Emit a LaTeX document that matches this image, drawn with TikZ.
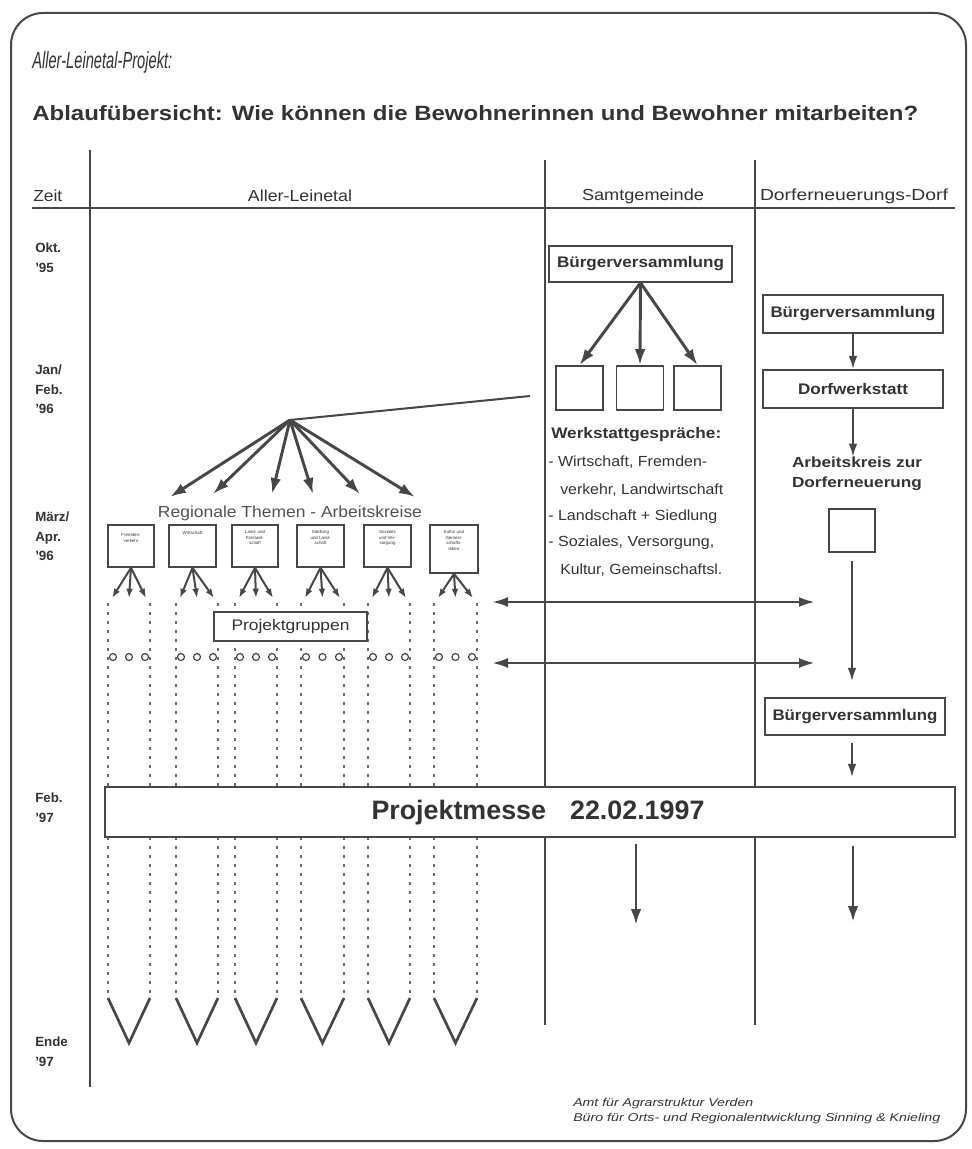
\documentclass[tikz,border=0pt]{standalone}
\usepackage{fontspec}
\setmainfont{Liberation Sans}
\usetikzlibrary{arrows.meta}
\newlength\px
\setlength\px{0.75pt}
\newcommand\fitw[2]{\resizebox{#1\px}{\height}{#2}}
\definecolor{lc}{HTML}{474747}
\definecolor{tc}{HTML}{333333}
\tikzset{
  frame/.style={draw=lc, line width=1.5pt, rounded corners=24pt},
  rulel/.style={draw=lc, line width=1.2pt},
  boxn/.style={draw=lc, line width=1.2pt, fill=white, inner sep=0pt, text=tc},
  txt/.style={inner sep=0pt, text=tc},
  tinyt/.style={inner sep=0pt, text=tc, align=center, font=\fontsize{3.3}{4.1}\selectfont},
  bigarrow/.style={draw=lc, line width=2.2pt, -{Latex[length=12pt,width=8pt]}},
  dblarrow/.style={draw=lc, line width=2pt, {Latex[length=12pt,width=7.5pt]}-{Latex[length=12pt,width=7.5pt]}},
  midarrow/.style={draw=lc, line width=1.5pt, -{Latex[length=10pt,width=6.5pt]}},
  fanarrow/.style={draw=lc, line width=1.5pt, -{Latex[length=7pt,width=5pt]}},
  dotline/.style={draw=lc!80, line width=1.35pt, dash pattern=on 2.25pt off 4.5pt},
  veeline/.style={draw=lc, line width=2pt},
  ring/.style={draw=lc, line width=0.9pt, fill=white, circle, inner sep=0pt, minimum size=5.25pt},
  tlab/.style={inner sep=0pt, text=tc, anchor=north west, align=left, font=\fontsize{10}{14.5}\selectfont\bfseries},
}
\begin{document}
\begin{tikzpicture}[x=0.75pt,y=-0.75pt]
\useasboundingbox (0,0) rectangle (971,1149);
\fill[white] (0,0) rectangle (971,1149);
\draw[frame] (11,13) rectangle (966,1141);

% titles
\node[txt, anchor=west] (title) at (32,62) {\fitw{140}{\fontsize{17.5}{20}\selectfont\itshape Aller-Leinetal-Projekt:}};
\node[txt, anchor=west] (subtitle) at (32,113) {\fitw{886}{\fontsize{15.5}{18}\selectfont\bfseries Ablaufübersicht: Wie können die Bewohnerinnen und Bewohner mitarbeiten?}};

% grid
\draw[draw=lc, line width=2pt] (32,208) -- (955,208);
\draw[rulel] (90,150) -- (90,1087);
\draw[rulel] (545,160) -- (545,1025);
\draw[rulel] (755,160) -- (755,1025);

% header
\node[txt, anchor=west] (hzeit) at (33,196) {\fitw{29}{\fontsize{12}{14}\selectfont Zeit}};
\node[txt] (hal) at (300,196) {\fitw{104}{\fontsize{12}{14}\selectfont Aller-Leinetal}};
\node[txt] (hsg) at (643,196) {\fitw{122}{\fontsize{12}{14}\selectfont Samtgemeinde}};
\node[txt] (hdd) at (854,196) {\fitw{188}{\fontsize{12}{14}\selectfont Dorferneuerungs-Dorf}};

% time labels
\node[tlab] (t1) at (35,243) {Okt.\\'95};
\node[tlab] (t2) at (35,365) {Jan/\\Feb.\\'96};
\node[tlab] (t3) at (35,512) {März/\\Apr.\\'96};
\node[tlab] (t4) at (35,793) {Feb.\\'97};
\node[tlab] (t5) at (35,1037) {Ende\\'97};

% Samtgemeinde
\node[boxn, minimum width=183\px, minimum height=36\px] (bv1) at (640.5,264) {\fitw{167}{\fontsize{11.5}{13}\selectfont\bfseries Bürgerversammlung}};
\node[boxn, minimum width=47\px, minimum height=44\px] (sq1) at (579.5,388) {};
\node[boxn, minimum width=47\px, minimum height=44\px] (sq2) at (640,388) {};
\node[boxn, minimum width=47\px, minimum height=44\px] (sq3) at (697.5,388) {};
\draw[bigarrow] (bv1.south) -- (sq1.north);
\draw[bigarrow] (bv1.south) -- (sq2.north);
\draw[bigarrow] (bv1.south) -- (sq3.north);

\node[txt, anchor=west] (wg0) at (551,435) {\fitw{170}{\fontsize{11.5}{13}\selectfont\bfseries Werkstattgespräche:}};
\node[txt, anchor=west] (wg1) at (548,462) {\fitw{159}{\fontsize{11}{13}\selectfont - Wirtschaft, Fremden-}};
\node[txt, anchor=west] (wg2) at (560,490) {\fitw{163}{\fontsize{11}{13}\selectfont verkehr, Landwirtschaft}};
\node[txt, anchor=west] (wg3) at (548,517) {\fitw{169}{\fontsize{11}{13}\selectfont - Landschaft + Siedlung}};
\node[txt, anchor=west] (wg4) at (548,543) {\fitw{166}{\fontsize{11}{13}\selectfont - Soziales, Versorgung,}};
\node[txt, anchor=west] (wg5) at (560,570) {\fitw{162}{\fontsize{11}{13}\selectfont Kultur, Gemeinschaftsl.}};

% hub to regional working groups
\coordinate (hub) at (290,420);
\coordinate (wsend) at (530,396);
\draw[draw=lc, line width=1.5pt] (hub) -- (wsend);
\coordinate (h1) at (170,497);
\coordinate (h2) at (213,494);
\coordinate (h3) at (272,494);
\coordinate (h4) at (313,494);
\coordinate (h5) at (360,494);
\coordinate (h6) at (415,497);
\foreach \k in {1,...,6} {\draw[bigarrow] (hub) -- (h\k);}

\node[txt, text=tc!85] (regth) at (290,513) {\fitw{264}{\fontsize{12}{14}\selectfont Regionale Themen - Arbeitskreise}};

% dashed columns, vees
\foreach \i/\xl/\xr in {1/108/150,2/176/218,3/235/277,4/301/344,5/368/410,6/434/477}{
  \pgfmathsetmacro\xm{(\xl+\xr)/2}
  \coordinate (dl\i) at (\xl,603);
  \coordinate (dr\i) at (\xr,603);
  \coordinate (vl\i) at (\xl,998);
  \coordinate (vr\i) at (\xr,998);
  \coordinate (vb\i) at (\xm,1043);
  \coordinate (fl\i) at ({\xl+4},598);
  \coordinate (fm\i) at (\xm,598);
  \coordinate (fr\i) at ({\xr-4},598);
  \draw[dotline] (dl\i) -- (vl\i);
  \draw[dotline] (dr\i) -- (vr\i);
  \draw[veeline] (vl\i) -- (vb\i) -- (vr\i);
}

% regional boxes
\node[boxn, minimum width=46\px, minimum height=42\px] (b1) at (131,546) {};
\node[boxn, minimum width=47\px, minimum height=42\px] (b2) at (192.5,546) {};
\node[boxn, minimum width=46\px, minimum height=42\px] (b3) at (255,546) {};
\node[boxn, minimum width=47\px, minimum height=42\px] (b4) at (320.5,546) {};
\node[boxn, minimum width=47\px, minimum height=42\px] (b5) at (387.5,546) {};
\node[boxn, minimum width=48\px, minimum height=48\px] (b6) at (454,549) {};
\node[tinyt, anchor=north] (b1t) at ([yshift=-9\px]b1.north) {Fremden-\\verkehr};
\node[tinyt, anchor=north] (b2t) at ([yshift=-7\px]b2.north) {Wirtschaft};
\node[tinyt, anchor=north] (b3t) at ([yshift=-6\px]b3.north) {Land- und\\Forstwirt-\\schaft};
\node[tinyt, anchor=north] (b4t) at ([yshift=-6\px]b4.north) {Siedlung\\und Land-\\schaft};
\node[tinyt, anchor=north] (b5t) at ([yshift=-6\px]b5.north) {Soziales\\und Ver-\\sorgung};
\node[tinyt, anchor=north] (b6t) at ([yshift=-6\px]b6.north) {Kultur und\\Gemein-\\schafts-\\leben};
\foreach \i in {1,...,6}{
  \draw[fanarrow] (b\i.south) -- (fl\i);
  \draw[fanarrow] (b\i.south) -- (fm\i);
  \draw[fanarrow] (b\i.south) -- (fr\i);
}

% Projektgruppen
\node[boxn, minimum width=153\px, minimum height=29\px] (pg) at (290.5,626.5) {\fitw{118}{\fontsize{11.5}{13}\selectfont Projektgruppen}};
\foreach \i/\xl/\xr in {1/108/150,2/176/218,3/235/277,4/301/344,5/368/410,6/434/477}{
  \pgfmathsetmacro\xm{(\xl+\xr)/2}
  \node[ring] (ca\i) at ({\xl+5},657) {};
  \node[ring] (cb\i) at (\xm,657) {};
  \node[ring] (cc\i) at ({\xr-5},657) {};
}

% exchange arrows
\coordinate (x1l) at (492,602);
\coordinate (x1r) at (815,602);
\coordinate (x2l) at (492,663);
\coordinate (x2r) at (815,663);
\draw[dblarrow] (x1l) -- (x1r);
\draw[dblarrow] (x2l) -- (x2r);

% Dorferneuerungs-Dorf
\node[boxn, minimum width=180\px, minimum height=38\px] (bv2) at (853,314) {\fitw{165}{\fontsize{11.5}{13}\selectfont\bfseries Bürgerversammlung}};
\node[boxn, minimum width=180\px, minimum height=38\px] (dw) at (853,389) {\fitw{110}{\fontsize{11.5}{13}\selectfont\bfseries Dorfwerkstatt}};
\node[txt, align=center] (ak) at (857,474) {\fitw{130}{\fontsize{11}{13}\selectfont\bfseries Arbeitskreis zur}\\[3pt]\fitw{130}{\fontsize{11}{13}\selectfont\bfseries Dorferneuerung}};
\node[boxn, minimum width=46\px, minimum height=43\px] (sq4) at (852,530.5) {};
\node[boxn, minimum width=180\px, minimum height=37\px] (bv3) at (855,716.5) {\fitw{165}{\fontsize{11.5}{13}\selectfont\bfseries Bürgerversammlung}};
\draw[midarrow] (bv2.south) -- (dw.north);
\draw[midarrow] (dw.south) -- (dw.south |- ak.north);
\draw[midarrow, shorten <=8\px, shorten >=16\px] (sq4.south) -- (sq4.south |- bv3.north);

% Projektmesse
\node[boxn, minimum width=850\px, minimum height=50\px] (pm) at (530,812) {};
\node[txt] (pmt) at (538,813) {\fitw{333}{\fontsize{20}{24}\selectfont\bfseries Projektmesse\hspace{0.9em}22.02.1997}};
\draw[midarrow, shorten <=7\px, shorten >=9\px] (sq4.south |- bv3.south) -- (sq4.south |- pm.north);
\coordinate (sgend) at (636,925);
\coordinate (ddend) at (853,922);
\draw[bigarrow, shorten <=6\px] (sgend |- pm.south) -- (sgend);
\draw[bigarrow, shorten <=8\px] (ddend |- pm.south) -- (ddend);

% footer
\node[txt, anchor=west] (f1) at (573,1104) {\fitw{180}{\fontsize{8.5}{10}\selectfont\itshape Amt für Agrarstruktur Verden}};
\node[txt, anchor=west] (f2) at (573,1119) {\fitw{367}{\fontsize{8.5}{10}\selectfont\itshape Büro für Orts- und Regionalentwicklung Sinning \& Knieling}};
\end{tikzpicture}
\end{document}
